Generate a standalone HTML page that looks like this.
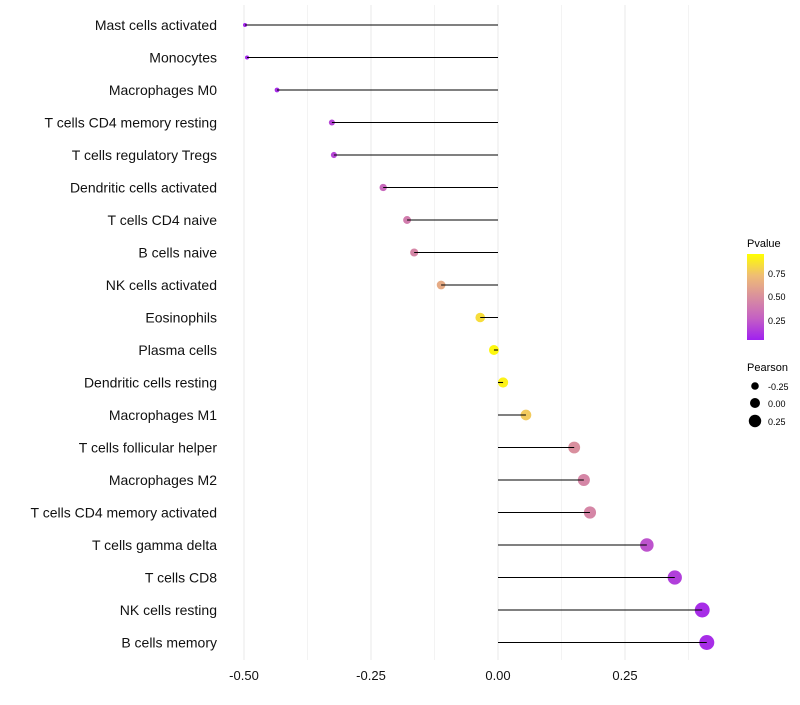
<!DOCTYPE html>
<html><head><meta charset="utf-8"><style>
body{margin:0;background:#fff;font-family:"Liberation Sans",sans-serif}
</style></head><body>
<svg id="chart" width="800" height="700" xmlns="http://www.w3.org/2000/svg" font-family="Liberation Sans, sans-serif">
<defs><linearGradient id="pg" x1="0" y1="1" x2="0" y2="0">
<stop offset="0" stop-color="#A020F0"/><stop offset="0.25" stop-color="#C460C4"/><stop offset="0.5" stop-color="#D98F9E"/><stop offset="0.75" stop-color="#EFBD74"/><stop offset="1" stop-color="#FFFF00"/>
</linearGradient></defs>
<g id="grid"></g><g id="dots"></g><g id="marks"></g><g id="labels"></g>
<g>
<text x="747" y="247" font-size="11">Pvalue</text>
<rect x="747" y="254" width="17" height="86" fill="url(#pg)"/>
<text x="768" y="277" font-size="9">0.75</text><text x="768" y="300" font-size="9">0.50</text><text x="768" y="324" font-size="9">0.25</text>
</g>
<g>
<text x="747" y="371" font-size="11">Pearson</text>
<circle cx="755" cy="386" r="3.8"/><text x="768" y="390" font-size="9">-0.25</text>
<circle cx="755" cy="403" r="5"/><text x="768" y="407" font-size="9">0.00</text>
<circle cx="755" cy="421" r="6.2"/><text x="768" y="425" font-size="9">0.25</text>
</g>
</svg>
<script>
const cells=["Mast cells activated","Monocytes","Macrophages M0","T cells CD4 memory resting","T cells regulatory  Tregs","Dendritic cells activated","T cells CD4 naive","B cells naive","NK cells activated","Eosinophils","Plasma cells","Dendritic cells resting","Macrophages M1","T cells follicular helper","Macrophages M2","T cells CD4 memory activated","T cells gamma delta","T cells CD8","NK cells resting","B cells memory"];
const pearson=[-0.498,-0.494,-0.435,-0.327,-0.323,-0.226,-0.179,-0.165,-0.112,-0.035,-0.008,0.010,0.055,0.150,0.169,0.181,0.293,0.348,0.402,0.411];
const pvalue=[0.02,0.02,0.05,0.15,0.15,0.3,0.4,0.45,0.65,0.87,0.97,0.95,0.8,0.5,0.45,0.45,0.2,0.12,0.05,0.05];
const ticks=[-0.5,-0.25,0,0.25];
const tickLabels=["-0.50","-0.25","0.00","0.25"];
const NS="http://www.w3.org/2000/svg";
const x=v=>498+v*508;
const y=i=>25+i*32.5;
const rad=v=>2+(v+0.5)/0.91*5.5;
const stops=[[0,[160,32,240]],[0.25,[196,96,196]],[0.5,[217,143,158]],[0.75,[239,189,116]],[1,[255,255,0]]];
function col(p){for(let k=1;k<stops.length;k++){if(p<=stops[k][0]){const a=stops[k-1],b=stops[k],t=(p-a[0])/(b[0]-a[0]);return "rgb("+a[1].map((c,j)=>Math.round(c+(b[1][j]-c)*t)).join(",")+")";}}return "rgb(255,255,0)";}
function mk(t,a,p){const e=document.createElementNS(NS,t);for(const k in a)e.setAttribute(k,a[k]);p.appendChild(e);return e;}
const grid=document.getElementById('grid'),marks=document.getElementById('marks'),dots=document.getElementById('dots'),labels=document.getElementById('labels');
for(let v=-0.5;v<=0.376;v+=0.125){const l=mk('line',{x1:x(v),x2:x(v),y1:5,y2:660,stroke:'#ebebeb','stroke-width':Math.abs(v*4-Math.round(v*4))<1e-6?1.1:0.6},grid);

}
ticks.forEach((t,i)=>{const e=mk('text',{x:x(t),y:680,'font-size':13,'text-anchor':'middle',fill:'#111'},labels);e.textContent=tickLabels[i];

});
cells.forEach((c,i)=>{
const t=mk('text',{x:217,y:y(i)+5,'font-size':14,'text-anchor':'end',fill:'#111'},labels);t.textContent=c;


const d=mk('circle',{cx:x(pearson[i]),cy:y(i),r:rad(pearson[i]),fill:col(pvalue[i])},dots);


const l=mk('line',{x1:x(0),x2:x(pearson[i]),y1:y(i),y2:y(i),stroke:'#000','stroke-width':1.1},marks);


});
</script>
</body></html>
